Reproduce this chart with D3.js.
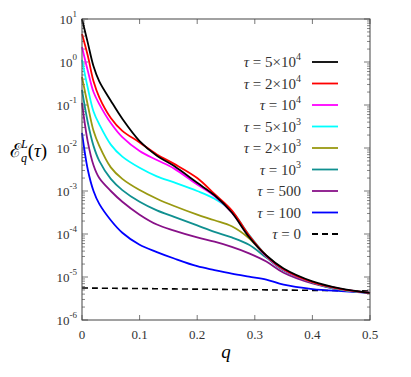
<!DOCTYPE html>
<html>
<head>
<meta charset="utf-8">
<script src="https://cdn.jsdelivr.net/npm/d3@7"></script>
<style>
  body { margin: 0; background: #fff; }
</style>
</head>
<body>
<svg width="411" height="377"></svg>
<script>
const width = 411;
const height = 377;
const serif = "'Liberation Serif', 'DejaVu Serif', 'Times New Roman', serif";

// q grid shared by all curves
const qs = [0, 0.01, 0.02, 0.03, 0.05, 0.07, 0.1, 0.13, 0.16, 0.2, 0.23, 0.26, 0.29, 0.32, 0.35, 0.4, 0.45, 0.5];

const tau5e4 = [10, 2.82, 0.794, 0.355, 0.126, 0.0479, 0.0145, 6.61e-3, 3.8e-3, 1.55e-3, 7.94e-4, 3.16e-4, 8.5e-5, 3.16e-5, 1.58e-5, 7.94e-6, 5.37e-6, 4.27e-6];
const tau2e4 = [4.47, 1.41, 0.355, 0.151, 0.0501, 0.0251, 0.0135, 7.08e-3, 4.27e-3, 2.0e-3, 8.51e-4, 3.55e-4, 9.33e-5, 3.16e-5, 1.51e-5, 7.59e-6, 5.25e-6, 4.27e-6];
const tau1e4 = [2.24, 0.631, 0.2, 0.105, 0.038, 0.0178, 8.51e-3, 5.25e-3, 3.31e-3, 1.41e-3, 7.59e-4, 3.16e-4, 8.91e-5, 3.02e-5, 1.48e-5, 7.59e-6, 5.25e-6, 4.27e-6];
const tau5e3 = [1.12, 0.251, 0.0708, 0.0355, 0.012, 6.31e-3, 3.47e-3, 2.19e-3, 1.58e-3, 1.0e-3, 6.61e-4, 3.39e-4, 9.55e-5, 3.16e-5, 1.51e-5, 7.59e-6, 5.13e-6, 4.27e-6];
const tau2e3 = [0.447, 0.1, 0.0251, 0.0112, 3.55e-3, 1.91e-3, 1.05e-3, 6.61e-4, 4.47e-4, 2.82e-4, 2.09e-4, 1.51e-4, 7.94e-5, 3.02e-5, 1.48e-5, 7.59e-6, 5.13e-6, 4.27e-6];
const tau1e3 = [0.224, 0.0398, 0.0112, 5.01e-3, 1.91e-3, 1.05e-3, 5.62e-4, 3.55e-4, 2.51e-4, 1.58e-4, 1.12e-4, 8.32e-5, 5.62e-5, 2.82e-5, 1.41e-5, 7.41e-6, 5.01e-6, 4.27e-6];
const tau500 = [0.112, 0.0141, 3.98e-3, 2.0e-3, 1.0e-3, 5.62e-4, 2.82e-4, 1.66e-4, 1.2e-4, 8.32e-5, 6.61e-5, 5.01e-5, 3.55e-5, 2.29e-5, 1.26e-5, 7.08e-6, 5.01e-6, 4.27e-6];
const tau100 = [0.0224, 3.16e-3, 1.0e-3, 5.01e-4, 2.09e-4, 1.07e-4, 5.62e-5, 3.8e-5, 2.69e-5, 1.78e-5, 1.45e-5, 1.2e-5, 1.02e-5, 8.71e-6, 6.61e-6, 5.25e-6, 4.68e-6, 4.27e-6];
const tau0 = [5.55e-6, 5.53e-6, 5.52e-6, 5.5e-6, 5.47e-6, 5.44e-6, 5.39e-6, 5.34e-6, 5.29e-6, 5.22e-6, 5.17e-6, 5.12e-6, 5.07e-6, 5.02e-6, 4.97e-6, 4.89e-6, 4.81e-6, 4.72e-6];

const seriesValues = [tau5e4, tau2e4, tau1e4, tau5e3, tau2e3, tau1e3, tau500, tau100, tau0];
const seriesLabels = ["5×10^4", "2×10^4", "10^4", "5×10^3", "2×10^3", "10^3", "500", "100", "0"];
const seriesColors = ["#000000", "#ff0000", "#ff00ff", "#00ffff", "#999911", "#109090", "#881188", "#0000ff", "#000000"];

const xTicks = [0, 0.1, 0.2, 0.3, 0.4, 0.5];
const yTickExps = [1, 0, -1, -2, -3, -4, -5, -6];

const margin = { left: 82, right: 41, top: 19, bottom: 57 };
const plotW = width - margin.left - margin.right;
const plotH = height - margin.top - margin.bottom;

const svg = d3.select("svg");
const g = svg.append("g").attr("transform", `translate(${margin.left},${margin.top})`);

const x = d3.scaleLinear().domain([0, 0.5]).range([0, plotW]);
const y = d3.scaleLog().domain([1e-6, 10]).range([plotH, 0]);

// minor log ticks
const minor = [];
for (let e = -6; e < 1; e++) for (let m = 2; m <= 9; m++) minor.push(m * Math.pow(10, e));

const tickColor = "#555";
g.append("g").selectAll("line").data(minor).join("line")
  .attr("x1", 0).attr("x2", 3).attr("y1", d => y(d)).attr("y2", d => y(d))
  .attr("stroke", tickColor).attr("stroke-width", 0.7);
g.append("g").selectAll("line").data(minor).join("line")
  .attr("x1", plotW).attr("x2", plotW - 3).attr("y1", d => y(d)).attr("y2", d => y(d))
  .attr("stroke", tickColor).attr("stroke-width", 0.7);
const majorY = yTickExps.map(e => Math.pow(10, e));
g.append("g").selectAll("line").data(majorY).join("line")
  .attr("x1", 0).attr("x2", 6).attr("y1", d => y(d)).attr("y2", d => y(d))
  .attr("stroke", tickColor).attr("stroke-width", 0.8);
g.append("g").selectAll("line").data(majorY).join("line")
  .attr("x1", plotW).attr("x2", plotW - 6).attr("y1", d => y(d)).attr("y2", d => y(d))
  .attr("stroke", tickColor).attr("stroke-width", 0.8);
g.append("g").selectAll("line").data(xTicks).join("line")
  .attr("x1", d => x(d)).attr("x2", d => x(d)).attr("y1", plotH).attr("y2", plotH - 5)
  .attr("stroke", tickColor).attr("stroke-width", 0.8);
g.append("g").selectAll("line").data(xTicks).join("line")
  .attr("x1", d => x(d)).attr("x2", d => x(d)).attr("y1", 0).attr("y2", 5)
  .attr("stroke", tickColor).attr("stroke-width", 0.8);

// y tick labels 10^n
const yl = g.append("g").selectAll("text").data(yTickExps).join("text")
  .attr("x", -5).attr("y", d => y(Math.pow(10, d)) + 5)
  .attr("text-anchor", "end")
  .style("font-family", serif).style("font-size", "13px").style("fill", "#333");
yl.append("tspan").text("10");
yl.append("tspan").attr("dy", -7).style("font-size", "9px").text(d => d);

// x tick labels
g.append("g").selectAll("text").data(xTicks).join("text")
  .attr("x", d => x(d)).attr("y", plotH + 19)
  .attr("text-anchor", "middle")
  .style("font-family", serif).style("font-size", "13px").style("fill", "#333")
  .text(d => d3.format("")(d));

// axis titles
g.append("text").attr("x", x(0.25)).attr("y", plotH + 38)
  .attr("text-anchor", "middle")
  .style("font-family", serif).style("font-size", "19px").style("font-style", "italic")
  .text("q");

const ylab = svg.append("text").attr("x", 10).attr("y", 157)
  .style("font-family", serif).style("font-size", "19px");
ylab.append("tspan").text("ℰ");
ylab.append("tspan").attr("dy", 5).style("font-size", "12px").style("font-style", "italic").text("q");
ylab.append("tspan").attr("dx", -6).attr("dy", -14).style("font-size", "12px").style("font-style", "italic").text("L");
ylab.append("tspan").attr("dy", 9).text("(");
ylab.append("tspan").style("font-style", "italic").text("τ");
ylab.append("tspan").text(")");

// curves
const line = d3.line().x((d, i) => x(qs[i])).y(d => y(d)).curve(d3.curveCatmullRom.alpha(0.5));
const order = [8, 7, 6, 5, 4, 3, 2, 1, 0];
g.append("g").selectAll("path").data(order).join("path")
  .attr("d", i => line(seriesValues[i]))
  .attr("fill", "none")
  .attr("stroke", i => seriesColors[i])
  .attr("stroke-width", i => i === 8 ? 1.6 : 1.8)
  .attr("stroke-dasharray", i => i === 8 ? "6,4" : null);

// frame
g.append("rect").attr("width", plotW).attr("height", plotH)
  .attr("fill", "none").attr("stroke", "#444").attr("stroke-width", 1);

// legend
const legY0 = 62, legDy = 21.5;
const leg = svg.append("g").selectAll("g").data(seriesLabels).join("g")
  .attr("transform", (d, i) => `translate(0,${legY0 + i * legDy})`);
leg.append("line").attr("x1", 312).attr("x2", 338)
  .attr("stroke", (d, i) => seriesColors[i]).attr("stroke-width", 1.8)
  .attr("stroke-dasharray", (d, i) => i === 8 ? "6,4" : null);
const lt = leg.append("text").attr("x", 301).attr("y", 5)
  .attr("text-anchor", "end")
  .style("font-family", serif).style("font-size", "15px").style("fill", "#333");
lt.append("tspan").style("font-style", "italic").text("τ");
lt.append("tspan").text(d => " = " + d.split("^")[0]);
lt.append("tspan").attr("dy", -7).style("font-size", "10px").text(d => d.split("^")[1] || "");
</script>
</body>
</html>
